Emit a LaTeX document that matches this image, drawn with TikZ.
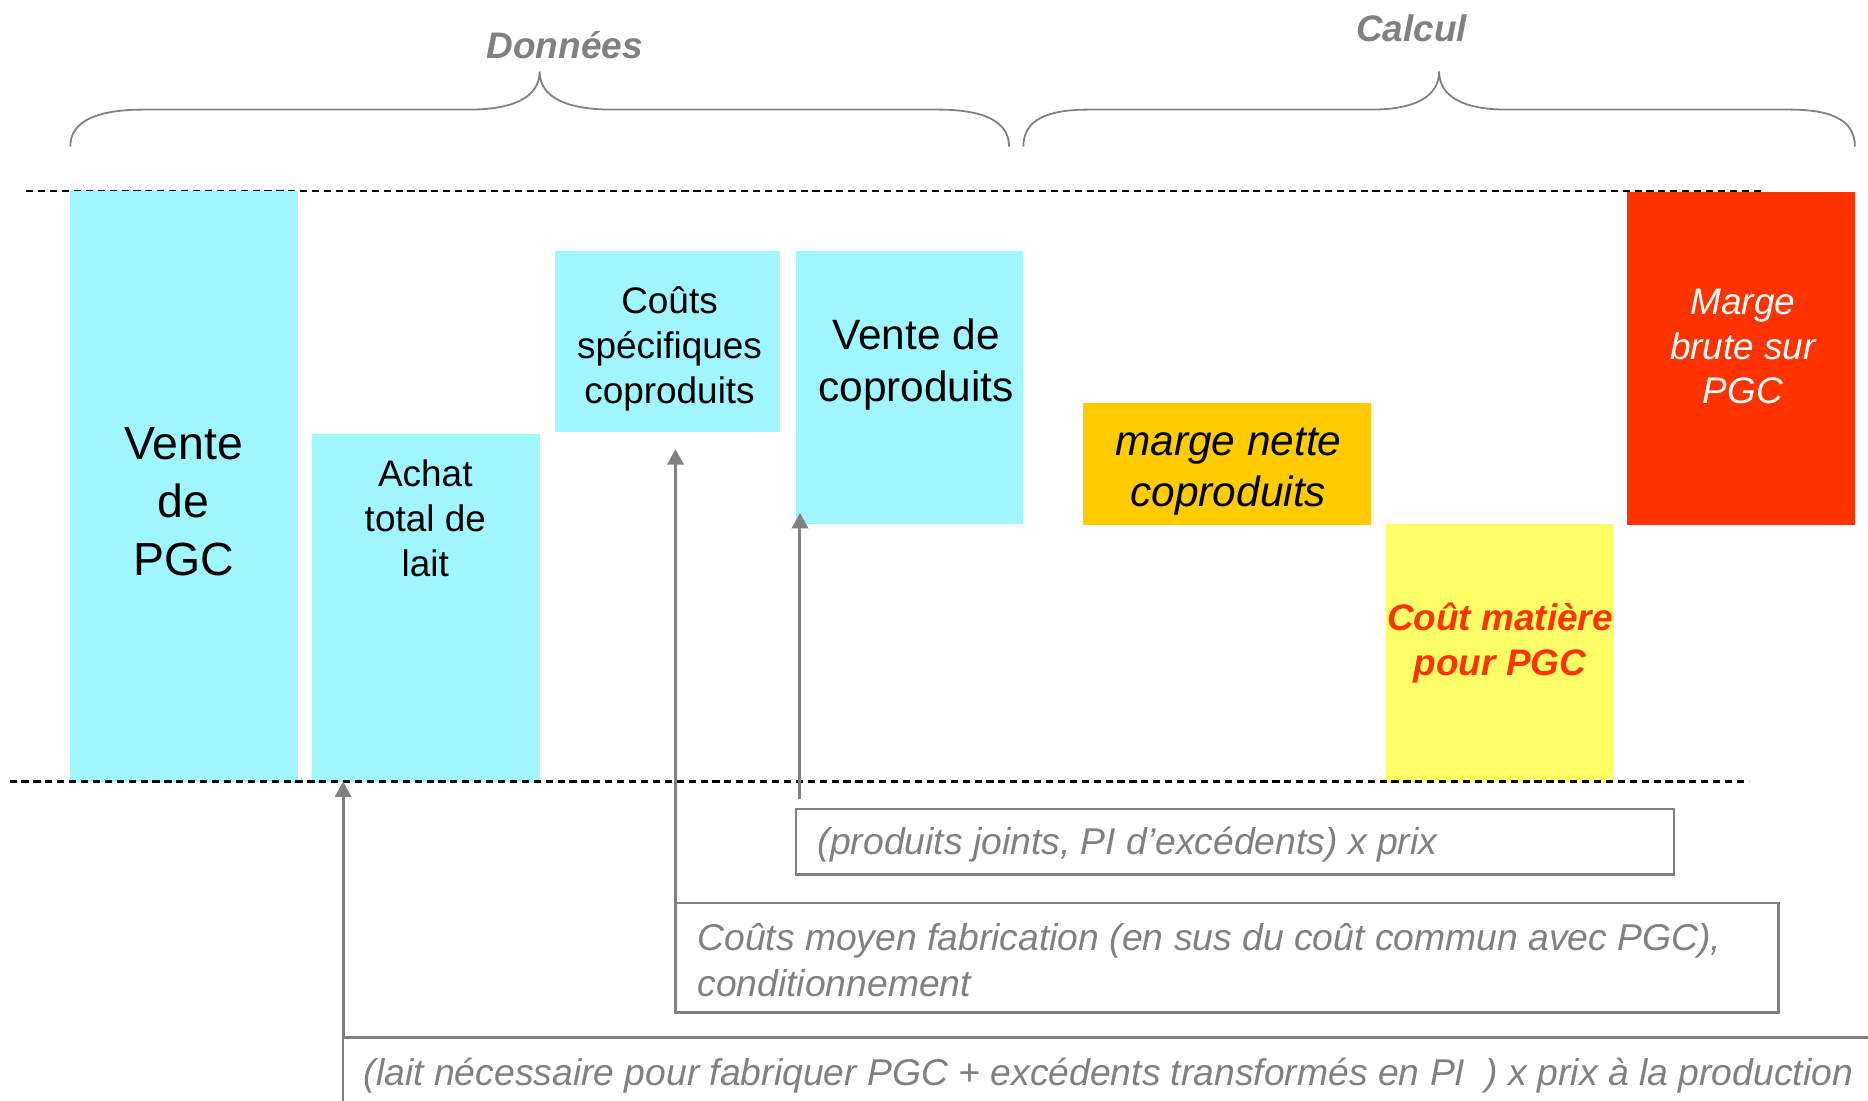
\documentclass[tikz,border=0pt]{standalone}
\usepackage{fontspec}
\setmainfont{Liberation Sans}
\usetikzlibrary{arrows.meta,calc}
\definecolor{cyanbox}{HTML}{A0F6FF}
\definecolor{orangebox}{HTML}{FFCC00}
\definecolor{yellowbox}{HTML}{FFFF66}
\definecolor{redbox}{HTML}{FF3300}
\definecolor{greyline}{HTML}{808080}
\begin{document}
\begin{tikzpicture}[x=0.5pt,y=-0.5pt,
  blk/.style={anchor=north west, inner sep=0pt, outer sep=0pt, draw=none},
  outl/.style={anchor=north west, inner sep=0pt, outer sep=0pt, draw=greyline, line width=1pt},
  tbig/.style={font=\fontsize{19.5}{24.25}\selectfont, align=center, inner sep=0pt},
  tmid/.style={font=\fontsize{17.8}{21.5}\selectfont, align=center, inner sep=0pt},
  tsmall/.style={font=\fontsize{15.5}{18.75}\selectfont, align=center, inner sep=0pt},
  note/.style={font=\fontsize{15.65}{19}\selectfont\itshape, text=greyline, align=left, anchor=west, inner sep=0pt},
  head/.style={font=\fontsize{15.5}{18.75}\selectfont\bfseries\itshape, text=greyline, inner sep=0pt},
  brace/.style={draw=greyline, line width=0.75pt},
  dashline/.style={draw=black, line width=0.9pt, dash pattern=on 3pt off 2pt},
  arr/.style={draw=greyline, line width=1.25pt, -{Triangle[length=6.5pt,width=6.8pt]}},
]
\clip (0,0) rectangle (1568,924);
\fill[white] (0,0) rectangle (1568,924);

% headings and braces
\node[head] (donnees) at (474,38) {Données};
\node[head] (calcul) at (1185,24) {Calcul};
\draw[brace] (59,123) .. controls (59,100) and (85,92) .. (121,92) -- (394,92)
  .. controls (430,92) and (453,82) .. (453,60)
  .. controls (453,82) and (476,92) .. (514,92) -- (787,92)
  .. controls (822,92) and (847,100) .. (847,123);
\draw[brace] (859,123) .. controls (859,100) and (880,92) .. (914,92) -- (1151,92)
  .. controls (1186,92) and (1208,82) .. (1208,60)
  .. controls (1208,82) and (1230,92) .. (1265,92) -- (1502,92)
  .. controls (1536,92) and (1557,100) .. (1557,123);

% top dashed line
\draw[dashline] (22,160) -- (1481,160);

% coloured blocks
\node[blk, fill=cyanbox, minimum width=95.5pt, minimum height=248pt] (pgc) at (59,160) {};
\node[blk, fill=cyanbox, minimum width=95.5pt, minimum height=146pt] (achat) at (262,364) {};
\node[blk, fill=cyanbox, minimum width=94.5pt, minimum height=76pt] (couts) at (466,211) {};
\node[blk, fill=cyanbox, minimum width=95.5pt, minimum height=114.5pt] (vcop) at (668,211) {};
\node[blk, fill=orangebox, minimum width=121pt, minimum height=51.5pt] (mnette) at (909,338) {};
\node[blk, fill=yellowbox, minimum width=96pt, minimum height=108pt] (cmat) at (1163,440) {};
\node[blk, fill=redbox, minimum width=95.5pt, minimum height=140pt] (mbrute) at (1366,161) {};

% block texts
\node[tbig] (tpgc) at (154,421) {Vente\\de\\PGC};
\node[tsmall] (tachat) at (357,435) {Achat\\total de\\lait};
\node[tsmall] (tcouts) at (562,293) {Coûts\\spécifiques\\coproduits};
\node[tmid] (tvcop) at (769,306) {Vente de\\coproduits};
\node[tmid, font=\fontsize{17.8}{21.5}\selectfont\itshape] (tmnette) at (1031,396) {marge nette\\coproduits};
\node[tsmall, font=\fontsize{15.5}{18.75}\selectfont\bfseries\itshape, text=redbox] (tcmat) at (1259,540) {Coût matière\\pour PGC};
\node[tsmall, font=\fontsize{15.5}{18.75}\selectfont\itshape, text=white] (tmbrute) at (1463,291) {Marge\\brute sur\\PGC};

% bottom dashed line
\draw[dashline] (8,656) -- (1468,656);

% explanation boxes
\node[outl, minimum width=368.5pt, minimum height=27.5pt] (b1) at (668,679) {};
\node[outl, minimum width=463pt, minimum height=46pt] (b2) at (567,758) {};
\node[outl, minimum width=660pt, minimum height=60pt] (b3) at (288,871) {};
\node[note] (nb1) at (686,709) {(produits joints, PI d’excédents) x prix};
\node[note] (nb2) at (585,806) {Coûts moyen fabrication (en sus du coût commun avec PGC),\\conditionnement};
\node[note] (nb3) at (305,903) {(lait nécessaire pour fabriquer PGC + excédents transformés en PI~~) x prix à la production};

% connectors
\draw[arr] (b3.north west) -- (b3.north west |- achat.south);
\draw[arr] (b2.north west) -- ($(b2.north west |- couts.south)+(0,14)$);
\coordinate (a3s) at ($(b1.north west)+(3.5,-8)$);
\draw[arr] (a3s) -- ($(a3s |- vcop.south)+(0,-9.5)$);
\end{tikzpicture}
\end{document}
